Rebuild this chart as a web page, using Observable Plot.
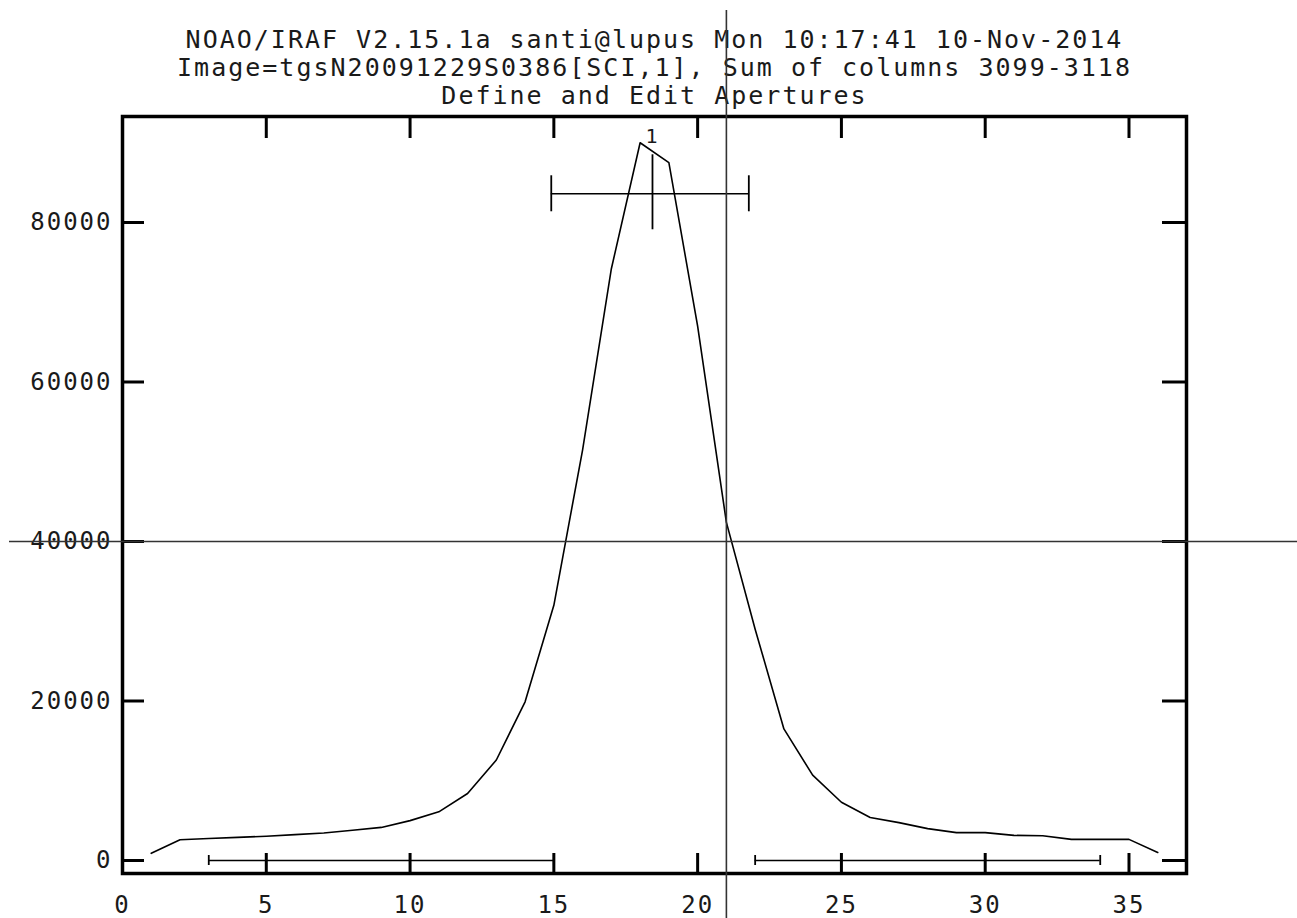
<!DOCTYPE html>
<html>
<head>
<meta charset="utf-8">
<script src="https://cdn.jsdelivr.net/npm/d3@7"></script>
<script src="https://cdn.jsdelivr.net/npm/@observablehq/plot@0.6"></script>
<style>
  html, body { margin: 0; padding: 0; background: #fff; }
  #chart svg { overflow: visible; display: block; }
</style>
</head>
<body>
<div id="chart"></div>
<script>
// ---- Title lines ----
const titleLines = [
  "NOAO/IRAF V2.15.1a santi@lupus Mon 10:17:41 10-Nov-2014",
  "Image=tgsN20091229S0386[SCI,1], Sum of columns 3099-3118",
  "Define and Edit Apertures"
];

// ---- Spatial profile (pixel vs summed flux) ----
const pixel = [1, 2, 3, 4, 5, 6, 7, 8, 9, 10, 11, 12, 13, 14, 15, 16, 17, 18,
               19, 20, 21, 22, 23, 24, 25, 26, 27, 28, 29, 30, 31, 32, 33, 34, 35, 36];
const flux  = [900, 2600, 2750, 2900, 3050, 3250, 3450, 3800, 4150, 5000, 6100, 8400,
               12600, 19900, 32000, 51500, 74200, 90000, 87500, 67000, 42400, 29000, 16500, 10700,
               7300, 5400, 4750, 4000, 3500, 3500, 3150, 3100, 2650, 2650, 2650, 1000];

// ---- Axes ----
const xTicks = [0, 5, 10, 15, 20, 25, 30, 35];
const yTicks = [0, 20000, 40000, 60000, 80000];
const xDomain = [0, 37];
const yDomain = [-1630, 93290];

// ---- Cursor crosshair ----
const cursorX = [21.0];
const cursorY = [40000];

// ---- Aperture 1 ----
const apertureId = ["1"];
const apertureCenter = [18.43];
const apertureLow = [14.91];
const apertureHigh = [21.78];
const apertureLevel = [83600];

// ---- Background regions ----
const backgroundLow = [3, 22];
const backgroundHigh = [15, 34];
const backgroundLevel = [0, 0];

// ---- Build tables ----
const profile = pixel.map((p, i) => ({pixel: p, flux: flux[i]}));
const apertures = apertureId.map((id, i) => ({
  id, center: apertureCenter[i], lo: apertureLow[i], hi: apertureHigh[i], level: apertureLevel[i]
}));
const apertureEnds = apertures.flatMap(a => [{x: a.lo, level: a.level}, {x: a.hi, level: a.level}]);
const backgrounds = backgroundLow.map((lo, i) => ({lo, hi: backgroundHigh[i], level: backgroundLevel[i]}));
const backgroundEnds = backgrounds.flatMap(b => [{x: b.lo, level: b.level}, {x: b.hi, level: b.level}]);

// ---- Layout ----
const W = 1297, H = 918;
const mL = 122, mR = 111, mT = 116, mB = 45;
const frameW = W - mL - mR, frameH = H - mT - mB;
const FONT = "DejaVu Sans Mono";
const INK = "#1a1a1a";

const chart = Plot.plot({
  width: W,
  height: H,
  marginLeft: mL,
  marginRight: mR,
  marginTop: mT,
  marginBottom: mB,
  style: {fontFamily: FONT, color: INK, background: "#fff"},
  x: {domain: xDomain, axis: null},
  y: {domain: yDomain, axis: null},
  marks: [
    // Title
    Plot.text([titleLines.join("\n")], {
      frameAnchor: "top", dy: -13, lineAnchor: "bottom", lineHeight: 1.12,
      fontSize: 25, fontFamily: FONT, fill: INK
    }),
    // Axis labels
    Plot.axisX(xTicks, {anchor: "bottom", tickSize: 0, tickPadding: 22, fontSize: 24, fontFamily: FONT, fill: INK, tickFormat: d => String(d), label: null}),
    Plot.axisY(yTicks, {anchor: "left", tickSize: 0, tickPadding: 10, fontSize: 24, fontFamily: FONT, fill: INK, tickFormat: d => String(d), label: null}),
    // Inward tick marks on all four sides
    Plot.ruleX(xTicks, {x: d => d, insetTop: frameH - 20, stroke: "#000", strokeWidth: 3}),
    Plot.ruleX(xTicks, {x: d => d, insetBottom: frameH - 22, stroke: "#000", strokeWidth: 3}),
    Plot.ruleY(yTicks, {y: d => d, insetRight: frameW - 22, stroke: "#000", strokeWidth: 3}),
    Plot.ruleY(yTicks, {y: d => d, insetLeft: frameW - 24, stroke: "#000", strokeWidth: 3}),
    // Background regions
    Plot.ruleY(backgrounds, {y: "level", x1: "lo", x2: "hi", stroke: "#000", strokeWidth: 1.6}),
    Plot.ruleX(backgroundEnds, {x: "x", y1: "level", y2: "level", insetTop: -5, insetBottom: -5, stroke: "#000", strokeWidth: 1.8}),
    // Profile
    Plot.line(profile, {x: "pixel", y: "flux", stroke: "#000", strokeWidth: 1.6}),
    // Aperture marker
    Plot.ruleY(apertures, {y: "level", x1: "lo", x2: "hi", stroke: "#000", strokeWidth: 1.6}),
    Plot.ruleX(apertureEnds, {x: "x", y1: "level", y2: "level", insetTop: -18, insetBottom: -18, stroke: "#000", strokeWidth: 1.8}),
    Plot.ruleX(apertures, {x: "center", y1: "level", y2: "level", insetTop: -39, insetBottom: -36, stroke: "#000", strokeWidth: 1.8}),
    Plot.text(apertures, {x: "center", y: "level", text: "id", dy: -57, fontSize: 20, fontFamily: FONT, fill: INK}),
    // Frame
    Plot.frame({stroke: "#000", strokeWidth: 3.5}),
    // Cursor crosshair spanning the whole window
    Plot.ruleX(cursorX, {x: d => d, insetTop: -(mT - 10), insetBottom: -mB, stroke: "#333", strokeWidth: 1.6}),
    Plot.ruleY(cursorY, {y: d => d, insetLeft: -(mL - 9), insetRight: -mR, stroke: "#333", strokeWidth: 1.6})
  ]
});

chart.querySelectorAll("text").forEach(t => t.setAttribute("letter-spacing", "2"));
document.getElementById("chart").appendChild(chart);
</script>
</body>
</html>
